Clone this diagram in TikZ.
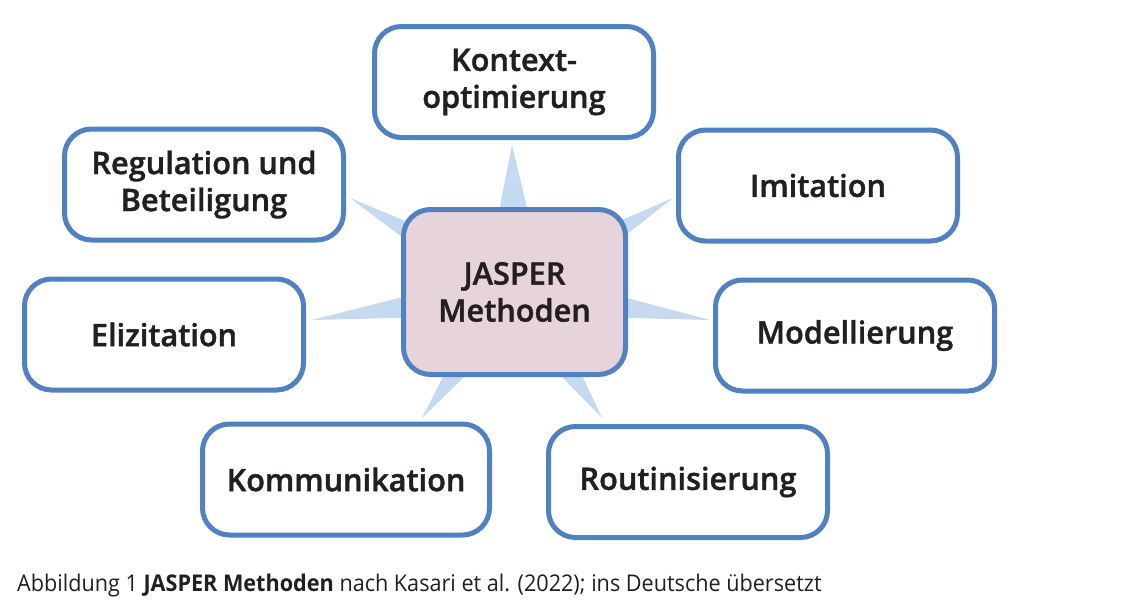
\documentclass[tikz,border=0pt]{standalone}
\usepackage{fontspec}
\setmainfont{Open Sans}
\IfFontExistsTF{Open Sans SemiBold}{%
  \newfontfamily\labfont{Open Sans SemiBold}[FakeStretch=0.99,FakeBold=1.2]%
}{%
  \IfFontExistsTF{Open Sans Semibold}{%
    \newfontfamily\labfont{Open Sans Semibold}[FakeStretch=0.99,FakeBold=1.2]%
  }{%
    \newfontfamily\labfont{Open Sans Bold}[FakeStretch=0.94]%
  }%
}
\newfontfamily\capfont{Open Sans}[FakeStretch=0.94]
\usetikzlibrary{calc}
\definecolor{bord}{RGB}{80,129,192}
\definecolor{spk}{RGB}{197,218,240}
\definecolor{cfill}{RGB}{231,212,219}
\definecolor{txt}{RGB}{35,31,32}
\tikzset{
  outer box/.style={draw=bord, line width=5pt, rounded corners=27pt, fill=white,
    minimum width=279pt, minimum height=111pt, align=center, text=txt,
    font=\labfont\fontsize{31}{37}\selectfont, inner sep=0pt},
  center box/.style={outer box, fill=cfill, minimum width=222pt, minimum height=165pt},
  spike/.style={fill=spk, draw=none},
  caption/.style={anchor=base west, inner sep=0pt, text=txt, font=\capfont\fontsize{23}{27}\selectfont}
}
\begin{document}
\begin{tikzpicture}[x=1pt,y=-1pt]
\useasboundingbox (0,0) rectangle (1125,600);
% spike tips and centre
\coordinate (c) at (515,292);
\coordinate (t1) at (512,145);
\coordinate (t2) at (350,198);
\coordinate (t3) at (673,198);
\coordinate (t4) at (312,320);
\coordinate (t5) at (710,320);
\coordinate (t6) at (422,418);
\coordinate (t7) at (602,418);
\foreach \t/\w in {t1/32,t2/24,t3/24,t4/23,t5/23,t6/26,t7/26}{
  \fill[spike] (\t) -- ($(c)!\w pt!90:(\t)$) -- ($(c)!\w pt!-90:(\t)$) -- cycle;
}
\node[outer box] (ko) at (514,82) {Kontext-\\optimierung};
\node[outer box] (re) at (204,184.5) {Regulation und\\Beteiligung};
\node[outer box] (im) at (818,185.5) {Imitation};
\node[outer box] (el) at (164,334.5) {Elizitation};
\node[outer box] (mo) at (855,335.5) {Modellierung};
\node[outer box, minimum width=287pt] (kom) at (346,479.5) {Kommunikation};
\node[outer box] (ro) at (688,482) {Routinisierung};
\node[center box] (ja) at (514.5,292) {JASPER\\Methoden};
\node[caption] (cap) at (17,591) {Abbildung 1 \textbf{JASPER Methoden} nach Kasari et al. (2022); ins Deutsche übersetzt};
\end{tikzpicture}
\end{document}
